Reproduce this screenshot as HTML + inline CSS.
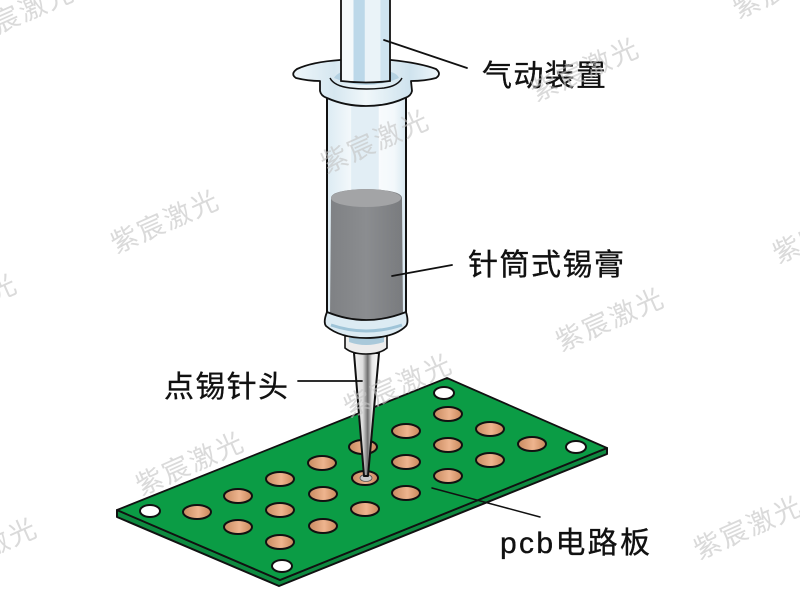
<!DOCTYPE html>
<html><head><meta charset="utf-8">
<style>html,body{margin:0;padding:0;background:#fff;width:800px;height:591px;overflow:hidden}
#c{width:800px;height:591px;overflow:hidden;position:relative}svg{display:block}
text{font-family:"Liberation Sans","WenQuanYi Zen Hei","Noto Sans CJK SC",sans-serif}
.l{font-size:30px;fill:#111;stroke:#111;stroke-width:.35}
.w{font-size:27px;fill:#c4c4c4;fill-opacity:.62;letter-spacing:2px;text-anchor:middle;font-family:"Liberation Sans","Noto Sans CJK SC",sans-serif}
</style></head><body><div id="c">
<svg width="800" height="591" viewBox="0 0 800 591" xmlns="http://www.w3.org/2000/svg">
<defs>
<linearGradient id="p2" x1="0" x2="1"><stop offset="0" stop-color="#c88a60"/><stop offset=".55" stop-color="#eeb48e"/><stop offset="1" stop-color="#c9875a"/></linearGradient>
<linearGradient id="nd" x1="0" x2="1"><stop offset="0" stop-color="#f5f5f5"/><stop offset=".35" stop-color="#dcdcdc"/><stop offset=".55" stop-color="#6f6f6f"/><stop offset=".72" stop-color="#e6e6e6"/><stop offset="1" stop-color="#fff"/></linearGradient>
<linearGradient id="pl" x1="0" x2="1"><stop offset="0" stop-color="#f4f9fb"/><stop offset=".25" stop-color="#f4f9fb"/><stop offset=".26" stop-color="#bcd8e9"/><stop offset=".48" stop-color="#bcd8e9"/><stop offset=".49" stop-color="#eaf3f8"/><stop offset=".8" stop-color="#eaf3f8"/><stop offset=".81" stop-color="#cfe4f0"/><stop offset="1" stop-color="#cfe4f0"/></linearGradient>
<linearGradient id="br" x1="0" x2="1"><stop offset="0" stop-color="#dcebf3"/><stop offset=".3" stop-color="#f3f8fb"/><stop offset=".31" stop-color="#e2eef5"/><stop offset=".65" stop-color="#e2eef5"/><stop offset=".66" stop-color="#f8fbfd"/><stop offset=".85" stop-color="#f3f8fb"/><stop offset="1" stop-color="#d8e8f1"/></linearGradient>
<linearGradient id="tin" x1="0" x2="1"><stop offset="0" stop-color="#7f8184"/><stop offset=".5" stop-color="#8b8d90"/><stop offset="1" stop-color="#797b7e"/></linearGradient>
<linearGradient id="co" x1="0" x2="1"><stop offset="0" stop-color="#eef6fa"/><stop offset=".28" stop-color="#d6e7f0"/><stop offset=".5" stop-color="#f0f7fa"/><stop offset=".8" stop-color="#cfe3ee"/><stop offset="1" stop-color="#eef6fa"/></linearGradient>
</defs>
<rect width="800" height="591" fill="#fff"/>

<!-- PCB -->
<path d="M117 510 L117 517 L279 586 L607 454 L607 448 L280 580Z" fill="#0e8a40" stroke="#111" stroke-width="2" stroke-linejoin="round"/>
<path d="M117 510 L447 378 L607 448 L280 580Z" fill="#0b9c45" stroke="#111" stroke-width="1.8" stroke-linejoin="round"/>
<g fill="#fff" stroke="#111" stroke-width="2">
<ellipse cx="150" cy="511" rx="10" ry="6"/><ellipse cx="282" cy="566" rx="10" ry="6"/><ellipse cx="444" cy="393" rx="10" ry="6"/><ellipse cx="576" cy="447" rx="10" ry="6"/>
</g>
<g fill="url(#p2)" stroke="#111" stroke-width="2">
<ellipse cx="197" cy="512" rx="14" ry="7"/><ellipse cx="238" cy="496" rx="14" ry="7"/><ellipse cx="238" cy="527" rx="14" ry="7"/>
<ellipse cx="280" cy="479" rx="14" ry="7"/><ellipse cx="280" cy="510" rx="14" ry="7"/><ellipse cx="280" cy="542" rx="14" ry="7"/>
<ellipse cx="322" cy="463" rx="14" ry="7"/><ellipse cx="323" cy="494" rx="14" ry="7"/><ellipse cx="323" cy="526" rx="14" ry="7"/>
<ellipse cx="363" cy="447" rx="14" ry="7"/><ellipse cx="365" cy="509" rx="14" ry="7"/>
<ellipse cx="406" cy="431" rx="14" ry="7"/><ellipse cx="406" cy="462" rx="14" ry="7"/><ellipse cx="406" cy="493" rx="14" ry="7"/>
<ellipse cx="448" cy="414" rx="14" ry="7"/><ellipse cx="448" cy="445" rx="14" ry="7"/><ellipse cx="448" cy="476" rx="14" ry="7"/>
<ellipse cx="490" cy="429" rx="14" ry="7"/><ellipse cx="490" cy="460" rx="14" ry="7"/><ellipse cx="532" cy="444" rx="14" ry="7"/>
<ellipse cx="365" cy="478" rx="13" ry="7"/>
</g>
<ellipse cx="366" cy="478" rx="6" ry="3.5" fill="#c9c9c9" stroke="#555" stroke-width=".8"/>

<!-- needle -->
<path d="M354 353 L379 353 L368 476 L364 476Z" fill="url(#nd)" stroke="#111" stroke-width="2" stroke-linejoin="round"/>

<!-- hub -->
<path d="M345 336 L345 348 Q352 354 366 354 Q380 354 387 348 L387 336Z" fill="#ececec" stroke="#111" stroke-width="1.6"/>
<path d="M349 336 L349 342 Q366 348 384 342 L384 336Z" fill="#a9c9da"/>

<!-- barrel -->
<rect x="327" y="95" width="79" height="220" fill="url(#br)"/>
<path d="M331 198 Q331 190 366 189 Q402 190 402 198 L403 318 Q366 330 330 318Z" fill="url(#tin)"/>
<ellipse cx="366" cy="198" rx="35" ry="9" fill="#a3a4a6"/>
<path d="M327 95 V314 M406 95 V314" stroke="#111" stroke-width="2" fill="none"/>
<path d="M327 312 Q323 322 326 326 Q340 338 366 338 Q394 338 406 326 Q409 322 406 312 Q366 328 327 312Z" fill="#dcebf3" stroke="#111" stroke-width="1.8"/>
<path d="M331 325 Q366 337 402 325" stroke="#9fc4d8" stroke-width="3" fill="none"/>

<!-- flange + collar -->
<path d="M340 60 Q312 62 297 69 Q290 74 296 78 Q308 81 320 81 L320 91 Q321 96 327 98 Q345 106 366 106 Q388 106 405 98 Q411 96 412 91 L411 81 Q425 81 436 78 Q442 74 436 69 Q420 63 391 60Z" fill="url(#co)" stroke="#111" stroke-width="1.8" stroke-linejoin="round"/>
<path d="M334 78 Q338 71 350 71 L382 71 Q396 71 399 78 Q366 92 334 78Z" fill="#b5d2e2"/>

<!-- plunger -->
<path d="M341 0 V81 Q366 84 390 81 V0Z" fill="url(#pl)"/>
<path d="M341 0 V81 Q366 84 390 81 V0" fill="none" stroke="#111" stroke-width="1.8"/>
<path d="M330 78 Q334 86 350 88 Q366 90 384 88 Q398 86 402 78" fill="none" stroke="#111" stroke-width="1.4"/>

<!-- leader lines -->
<g stroke="#111" fill="none" stroke-linecap="round">
<path d="M384 40 L467 68" stroke-width="1.8"/>
<path d="M392 276 L452 265" stroke-width="1.8"/>
<path d="M298 381 L362 381" stroke-width="1.8"/>
<path d="M432 488 L540 517" stroke-width="1.5"/>
</g>

<!-- labels -->
<text class="l" x="482" y="86" textLength="124" lengthAdjust="spacing">气动装置</text>
<text class="l" x="468" y="275" textLength="156" lengthAdjust="spacing">针筒式锡膏</text>
<text class="l" x="164" y="397" textLength="124" lengthAdjust="spacing">点锡针头</text>
<text class="l" x="500" y="553" textLength="150" lengthAdjust="spacing">pcb电路板</text>

<!-- watermarks -->
<g>
<text class="w" transform="translate(169 230) rotate(-24)">紫宸激光</text>
<text class="w" transform="translate(379 150) rotate(-24)">紫宸激光</text>
<text class="w" transform="translate(589 78) rotate(-24)">紫宸激光</text>
<text class="w" transform="translate(614 328) rotate(-24)">紫宸激光</text>
<text class="w" transform="translate(194 472) rotate(-24)">紫宸激光</text>
<text class="w" transform="translate(402 394) rotate(-24)">紫宸激光</text>
<text class="w" transform="translate(752 536) rotate(-24)">紫宸激光</text>
<text class="w" transform="translate(24 22) rotate(-24)">紫宸激光</text>
<text class="w" transform="translate(-33 314) rotate(-24)">紫宸激光</text>
<text class="w" transform="translate(-13 558) rotate(-24)">紫宸激光</text>
<text class="w" transform="translate(791 -5) rotate(-24)">紫宸激光</text>
<text class="w" transform="translate(831 240) rotate(-24)">紫宸激光</text>
</g>
</svg>
</div></body></html>
